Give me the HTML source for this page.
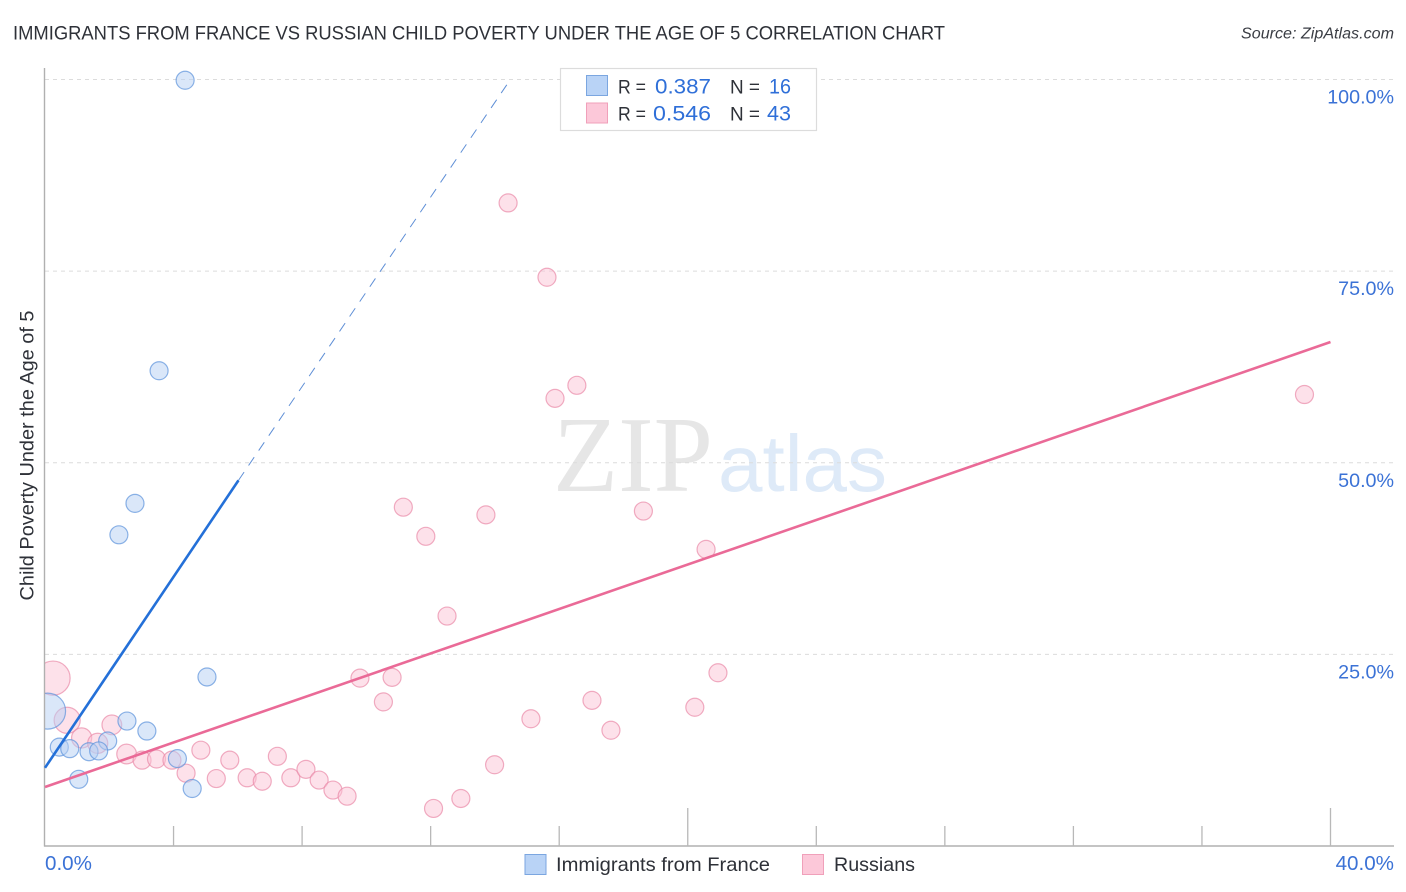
<!DOCTYPE html>
<html lang="en">
<head>
<meta charset="utf-8">
<title>Immigrants from France vs Russian Child Poverty Under the Age of 5 Correlation Chart</title>
<style>
html,body{margin:0;padding:0;background:#fff;width:1406px;height:892px;overflow:hidden}
svg{display:block;font-family:"Liberation Sans",sans-serif}
</style>
</head>
<body>
<svg id="chart" width="1406" height="892" viewBox="0 0 1406 892" xmlns="http://www.w3.org/2000/svg">
  <text x="13" y="39.5" font-size="19" fill="#2e3138" textLength="932" lengthAdjust="spacingAndGlyphs">IMMIGRANTS FROM FRANCE VS RUSSIAN CHILD POVERTY UNDER THE AGE OF 5 CORRELATION CHART</text>
  <text x="1241" y="38.5" font-size="15.5" font-style="italic" fill="#3a3d44" textLength="153" lengthAdjust="spacingAndGlyphs">Source: ZipAtlas.com</text>

  <g>
    <text x="553" y="491" font-family="'Liberation Serif',serif" font-size="108" fill="#e6e6e6" textLength="160" lengthAdjust="spacingAndGlyphs">ZIP</text>
    <text x="718" y="491" font-size="80" fill="#deeaf8" textLength="169" lengthAdjust="spacingAndGlyphs">atlas</text>
  </g>

  <g id="grid"></g>
  <g id="marks"></g>
  <rect x="0" y="650" width="44.5" height="90" fill="#fff"/>
  <g id="axes"></g>
  <g id="lines"></g>
  <g id="labels"></g>

  <text transform="translate(33.5 455.5) rotate(-90)" font-size="19" fill="#2e3138" text-anchor="middle" textLength="290" lengthAdjust="spacingAndGlyphs">Child Poverty Under the Age of 5</text>

  <g>
    <rect x="560.5" y="68.5" width="256" height="62" fill="#fff" stroke="#dcdcdc" stroke-width="1.2"/>
    <rect x="586.5" y="75.5" width="21" height="20" fill="#b9d3f6" stroke="#7ba6e0" stroke-width="1"/>
    <rect x="586.5" y="103" width="21" height="20" fill="#fcc8d9" stroke="#f0a0ba" stroke-width="1"/>
    <text x="618" y="93.5" font-size="19" fill="#2e3138" textLength="28" lengthAdjust="spacingAndGlyphs">R =</text>
    <text x="655" y="93.5" font-size="21" fill="#2f6fd8" textLength="56" lengthAdjust="spacingAndGlyphs">0.387</text>
    <text x="730" y="93.5" font-size="19" fill="#2e3138" textLength="30" lengthAdjust="spacingAndGlyphs">N =</text>
    <text x="769" y="93.5" font-size="21" fill="#2f6fd8" textLength="22" lengthAdjust="spacingAndGlyphs">16</text>
    <text x="618" y="120.5" font-size="19" fill="#2e3138" textLength="28" lengthAdjust="spacingAndGlyphs">R =</text>
    <text x="653" y="120.5" font-size="21" fill="#2f6fd8" textLength="58" lengthAdjust="spacingAndGlyphs">0.546</text>
    <text x="730" y="120.5" font-size="19" fill="#2e3138" textLength="30" lengthAdjust="spacingAndGlyphs">N =</text>
    <text x="767" y="120.5" font-size="21" fill="#2f6fd8" textLength="24" lengthAdjust="spacingAndGlyphs">43</text>
  </g>

  <g>
    <g>
      <rect x="525" y="854.5" width="21" height="20" fill="#b9d3f6" stroke="#7ba6e0" stroke-width="1"/>
      <text x="556" y="871" font-size="19.5" fill="#2e3138" textLength="214" lengthAdjust="spacingAndGlyphs">Immigrants from France</text>
    </g>
    <g>
      <rect x="802.5" y="854.5" width="21" height="20" fill="#fcc8d9" stroke="#f0a0ba" stroke-width="1"/>
      <text x="834" y="871" font-size="19.5" fill="#2e3138" textLength="81" lengthAdjust="spacingAndGlyphs">Russians</text>
    </g>
  </g>
</svg>
<script>
const yTickValues = [25, 50, 75, 100];
const yTickLabels = ['25.0%', '50.0%', '75.0%', '100.0%'];
const xTickValues = [0, 4, 8, 12, 16, 20, 24, 28, 32, 36, 40];
const xMajorTicks = [0, 20, 40];
const xEndValues = [0, 40];
const xEndLabels = ['0.0%', '40.0%'];

const franceX = [4.36, 3.55, 2.80, 2.30, 5.04, 0.08, 2.55, 3.17, 1.95, 0.445, 0.77, 1.37, 1.67, 1.05, 4.12, 4.58];
const franceY = [99.9, 62.0, 44.7, 40.6, 22.05, 17.6, 16.3, 15.0, 13.7, 12.9, 12.7, 12.3, 12.4, 8.7, 11.4, 7.5];
const franceWeight = [1, 1, 1, 1, 1, 4, 1, 1, 1, 1, 1, 1, 1, 1, 1, 1];

const russianX = [14.41, 15.62, 16.55, 15.87, 39.19, 11.15, 13.72, 18.62, 11.85, 20.57, 12.51, 20.94, 9.80, 10.80, 0.25, 17.02, 10.53, 20.22, 15.12, 17.61, 0.69, 2.08, 1.14, 1.64, 2.54, 3.02, 3.47, 3.95, 4.39, 4.85, 5.33, 5.75, 6.29, 6.76, 7.23, 7.65, 8.12, 8.53, 8.96, 9.40, 12.09, 12.94, 13.99];
const russianY = [83.9, 74.2, 60.1, 58.4, 58.9, 44.2, 43.2, 43.7, 40.4, 38.7, 30.0, 22.6, 21.9, 22.0, 21.9, 19.0, 18.8, 18.1, 16.6, 15.1, 16.4, 15.8, 14.1, 13.4, 12.0, 11.2, 11.35, 11.2, 9.5, 12.5, 8.8, 11.2, 8.9, 8.45, 11.7, 8.9, 10.0, 8.6, 7.3, 6.5, 4.9, 6.2, 10.6];
const russianWeight = [1, 1, 1, 1, 1, 1, 1, 1, 1, 1, 1, 1, 1, 1, 3.6, 1, 1, 1, 1, 1, 2.1, 1.2, 1.25, 1.25, 1.2, 1, 1, 1, 1, 1, 1, 1, 1, 1, 1, 1, 1, 1, 1, 1, 1, 1, 1];

const franceTrendX = [0, 6.02, 14.4];
const franceTrendY = [10.2, 47.7, 99.5];
const russianTrendX = [0, 40];
const russianTrendY = [7.7, 65.75];

const NS = 'http://www.w3.org/2000/svg';
const xScale = v => 45 + v * (1285.5 / 40);
const yScale = v => 846 - v * (766.5 / 100);
const rScale = w => 9 * Math.sqrt(w);

function mk(parent, tag, attrs, text) {
  const el = document.createElementNS(NS, tag);
  for (const k in attrs) el.setAttribute(k, attrs[k]);
  if (text !== undefined) el.textContent = text;
  parent.appendChild(el);
  return el;
}

const grid = document.getElementById('grid');
const axes = document.getElementById('axes');
const marks = document.getElementById('marks');
const lines = document.getElementById('lines');
const labels = document.getElementById('labels');

yTickValues.forEach((v, i) => {
  const g = mk(grid, 'line', { x1: 45, x2: 1394, y1: yScale(v), y2: yScale(v), stroke: '#dcdcdc', 'stroke-width': 1, 'stroke-dasharray': '4 4' });
  
  
  const t = mk(labels, 'text', { x: 1394, y: yScale(v) + 24, 'font-size': 19.7, fill: '#3b72d6', 'text-anchor': 'end' }, yTickLabels[i]);
  
  
});

const yAxis = mk(axes, 'line', { x1: 44.5, x2: 44.5, y1: 68, y2: 846.5, stroke: '#b0b0b0', 'stroke-width': 1.4 });


const xAxis = mk(axes, 'line', { x1: 44, x2: 1394, y1: 846, y2: 846, stroke: '#b0b0b0', 'stroke-width': 1.4 });



xTickValues.forEach(v => {
  if (v === 0) return;
  const top = xMajorTicks.includes(v) ? 808 : 826;
  const t = mk(axes, 'line', { x1: xScale(v), x2: xScale(v), y1: top, y2: 846, stroke: '#b8b8b8', 'stroke-width': 1.3 });
  
  
});

xEndValues.forEach((v, i) => {
  const t = mk(labels, 'text', {
    x: v === 0 ? 45 : 1394,
    y: 870,
    'font-size': 20.6,
    fill: '#3b72d6',
    'text-anchor': v === 0 ? 'start' : 'end'
  }, xEndLabels[i]);
  
  
});

function drawPoints(xs, ys, ws, fill, stroke) {
  const group = mk(marks, 'g', {});
  xs.forEach((x, i) => {
    const c = mk(group, 'circle', {
      cx: xScale(x),
      cy: yScale(ys[i]),
      r: rScale(ws[i]),
      fill: fill,
      'fill-opacity': 0.5,
      stroke: stroke,
      'stroke-opacity': 0.7,
      'stroke-width': 1.2
    });
    
    
  });
}
drawPoints(russianX, russianY, russianWeight, '#fbc4d6', '#e98aa8');
drawPoints(franceX, franceY, franceWeight, '#b5d0f4', '#5d93dc');

const franceSolid = mk(lines, 'line', {
  x1: xScale(franceTrendX[0]), y1: yScale(franceTrendY[0]),
  x2: xScale(franceTrendX[1]), y2: yScale(franceTrendY[1]),
  stroke: '#2470d8', 'stroke-width': 2.6
});


const franceDash = mk(lines, 'line', {
  x1: xScale(franceTrendX[1]), y1: yScale(franceTrendY[1]),
  x2: xScale(franceTrendX[2]), y2: yScale(franceTrendY[2]),
  stroke: '#5f8fd6', 'stroke-width': 1, 'stroke-dasharray': '10 8'
});


const russianLine = mk(lines, 'line', {
  x1: xScale(russianTrendX[0]), y1: yScale(russianTrendY[0]),
  x2: xScale(russianTrendX[1]), y2: yScale(russianTrendY[1]),
  stroke: '#ea6a97', 'stroke-width': 2.6
});


</script>
</body>
</html>
